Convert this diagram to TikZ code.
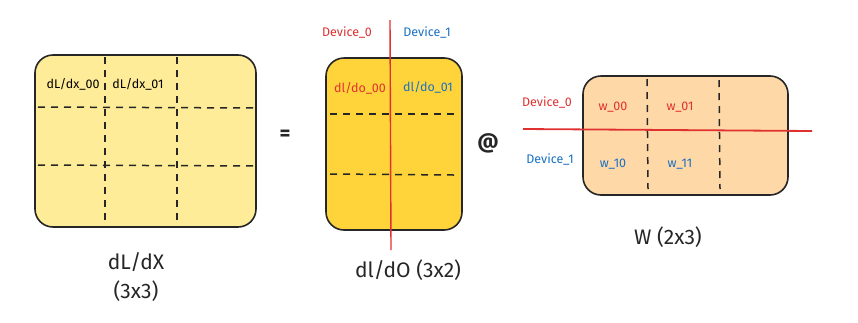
\documentclass[tikz,border=0pt]{standalone}
\usepackage{fontspec}
\setmainfont{Fira Sans}
\usetikzlibrary{positioning}
\definecolor{dxfill}{HTML}{FFEC99}
\definecolor{dofill}{HTML}{FFD43B}
\definecolor{wfill}{HTML}{FFD8A8}
\definecolor{devred}{HTML}{E03131}
\definecolor{devblue}{HTML}{1971C2}
\tikzset{
  mat/.style={rectangle,draw=black!85,line width=1.6pt,rounded corners=18pt,inner sep=0pt},
  grid/.style={draw=black!85,line width=1.5pt,dash pattern=on 7pt off 6pt},
  split/.style={draw=devred,line width=1.4pt},
  cell/.style={font=\fontsize{12.5}{14}\selectfont},
  matcap/.style={font=\fontsize{21}{29}\selectfont,align=center,text=black!85},
  op/.style={font=\fontsize{21}{22}\selectfont\bfseries,text=black!85}
}
\begin{document}
\begin{tikzpicture}[x=1pt,y=-1pt]
\useasboundingbox (0,0) rectangle (858,322);
% matrices
\node (dx) [mat,fill=dxfill,minimum width=221pt,minimum height=172pt] at (145.5,141) {};
\node (do) [mat,fill=dofill,minimum width=136pt,minimum height=172pt] at (394,144) {};
\node (w) [mat,fill=wfill,minimum width=205pt,minimum height=119pt] at (685.5,135.5) {};
% grid of dL/dx
\draw [grid] (105,57) -- (105,224);
\draw [grid] (177,57) -- (177,224);
\draw [grid] (38,107) -- (255,108);
\draw [grid] (38,165) -- (257,166);
% grid of dl/dO
\draw [grid] (330,114) -- (454,114);
\draw [grid] (330,174) -- (454,175);
% grid of W
\draw [grid] (647,79) -- (648,189);
\draw [grid] (719,80) -- (720,189);
% device splits
\draw [split] (390,20) -- (391,250);
\draw [split,line width=1.8pt] (523,129) -- (812,131);
% cell labels
\node (dx00) [cell] at (73,84) {dL/dx\_00};
\node (dx01) [cell] at (138,84) {dL/dx\_01};
\node (do00) [cell,text=devred] at (360,88) {dl/do\_00};
\node (do01) [cell,text=devblue] at (428,87) {dl/do\_01};
\node (w00) [cell,text=devred] at (613,107) {w\_00};
\node (w01) [cell,text=devred] at (680,107) {w\_01};
\node (w10) [cell,text=devblue] at (613,164) {w\_10};
\node (w11) [cell,text=devblue] at (680,164) {w\_11};
% device labels
\node (devA) [cell,text=devred] at (347,33) {Device\_0};
\node (devB) [cell,text=devblue] at (427,33) {Device\_1};
\node (devC) [cell,text=devred] at (547,103) {Device\_0};
\node (devD) [cell,text=devblue] at (550,160) {Device\_1};
% operators and captions
\node (eq) [op] at (285,135) {=};
\node (at) [op] at (488,143) {@};
\node (dxcap) [matcap] at (136,277) {dL/dX\\(3x3)};
\node (docap) [matcap] at (408,270) {dl/dO (3x2)};
\node (wcap) [matcap] at (668,237) {W (2x3)};
\end{tikzpicture}
\end{document}
